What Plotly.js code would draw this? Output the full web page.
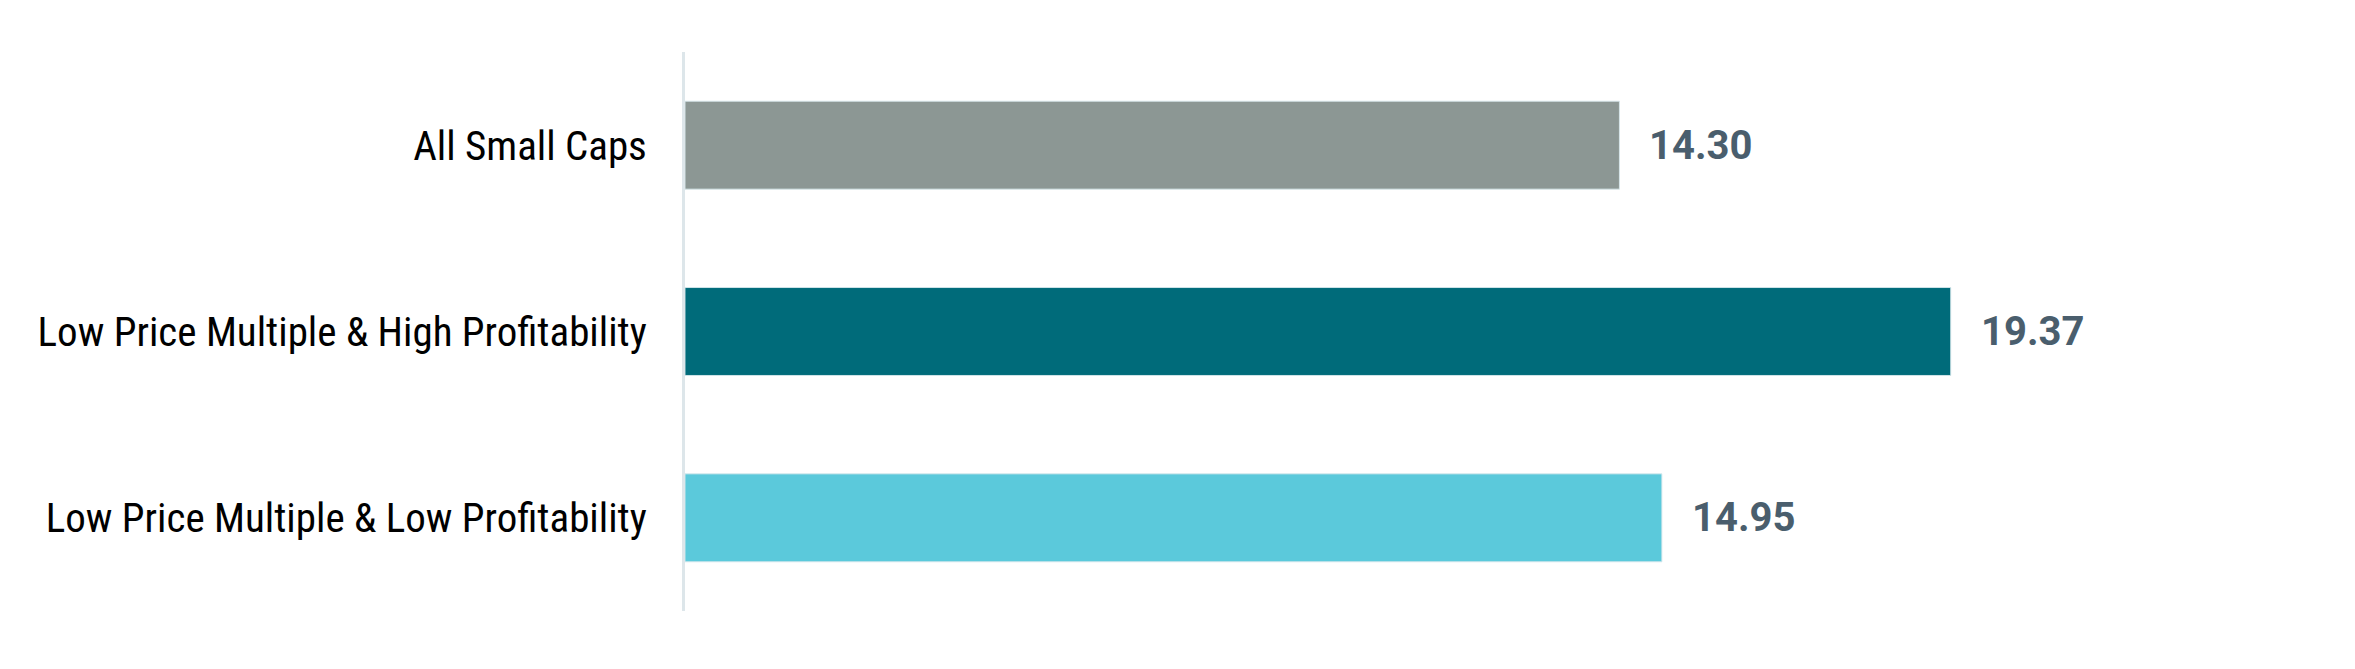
<!DOCTYPE html>
<html>
<head>
<meta charset="utf-8">
<script src="https://cdn.plot.ly/plotly-3.0.1.min.js"></script>
<style>
  html, body { margin: 0; padding: 0; background: #fff; }
  #chart { width: 2355px; height: 669px; }
</style>
</head>
<body>
<div id="chart"></div>
<script>
// categories, top to bottom
const categories = [
    'All Small Caps',
    'Low Price Multiple & High Profitability',
    'Low Price Multiple & Low Profitability'
];
const values = [14.30, 19.37, 14.95];
const barColors = ['#8c9794', '#006b7a', '#5bc9db'];

const trace = {
    type: 'bar',
    orientation: 'h',
    y: categories,
    x: values,
    marker: { color: barColors, line: { width: 1, color: 'rgba(215,232,236,0.9)' } },
    hoverinfo: 'none',
    width: 0.472
};

// value labels sit a little way right of each bar end
const valueLabels = categories.map((c, i) => ({
    x: values[i],
    y: c,
    xref: 'x',
    yref: 'y',
    text: values[i].toFixed(2),
    showarrow: false,
    xanchor: 'left',
    yanchor: 'middle',
    xshift: 28,
    font: { family: 'Roboto', size: 40, weight: 700, color: '#4a5e6d' }
}));

const layout = {
    width: 2355,
    height: 669,
    margin: { l: 685, r: 56, t: 52, b: 58 },
    paper_bgcolor: '#fff',
    plot_bgcolor: '#fff',
    showlegend: false,
    annotations: valueLabels,
    xaxis: {
        range: [0, 24.7],
        visible: false,
        fixedrange: true
    },
    yaxis: {
        autorange: 'reversed',
        showline: true,
        linecolor: '#dde6ea',
        linewidth: 3,
        showgrid: false,
        zeroline: false,
        ticks: '',
        ticklabelstandoff: 27,
        tickfont: { family: '"Liberation Sans Narrow", "Roboto Condensed", Roboto', size: 41, color: '#000' },
        fixedrange: true
    }
};

Plotly.newPlot('chart', [trace], layout, { staticPlot: true, displayModeBar: false });
</script>
</body>
</html>
